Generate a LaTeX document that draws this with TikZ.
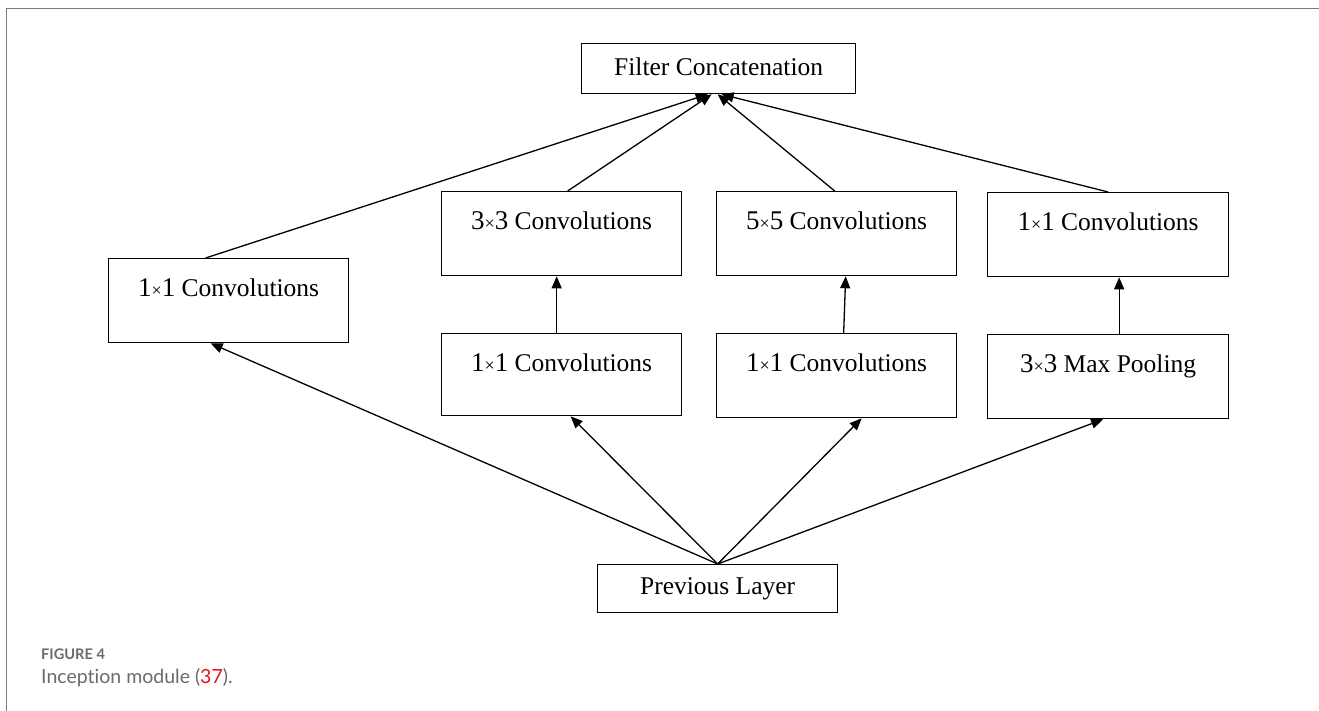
\documentclass[tikz,border=0pt]{standalone}
\usepackage{fontspec}
\setmainfont{Liberation Serif}
\newfontfamily\capfont[Ligatures=NoCommon]{Lato}
\usetikzlibrary{arrows.meta}
\definecolor{framegray}{HTML}{7A7A7A}
\definecolor{capgray}{HTML}{6B6B6B}
\definecolor{refred}{HTML}{E3141E}
\newcommand{\tms}{{\fontsize{18}{18}\selectfont ×}}
\newcommand{\dg}[1]{{\fontsize{27}{30}\selectfont #1}}
\begin{document}
\begin{tikzpicture}[x=1pt,y=-1pt,
  box/.style={draw, line width=1.3pt, inner xsep=0pt, inner ysep=0pt,
    font=\fontsize{25.5}{30}\selectfont, anchor=north west},
  conv/.style={box, minimum width=240pt, text height=38pt, text depth=46pt},
  arr/.style={-{Triangle[length=12pt,width=10pt]}, line width=1.3pt},
  captxt/.style={anchor=base west, inner sep=0pt, text=capgray}]
\useasboundingbox (0,0) rectangle (1319,711);
\fill[white] (0,0) rectangle (1319,711);
\draw[framegray, line width=1.6pt] (6.5,711) -- (6.5,8.5) -- (1319,8.5);

% nodes
\node[box, minimum width=274pt, text height=32pt, text depth=18pt] (fc) at (581,43) {Filter Concatenation};
\node[conv] (l1) at (108,258) {\dg{1}\tms\dg{1} Convolutions};
\node[conv] (c33) at (441,191) {\dg{3}\tms\dg{3} Convolutions};
\node[conv] (c55) at (716,191) {\dg{5}\tms\dg{5} Convolutions};
\node[conv, minimum width=241pt] (r1) at (987,192) {\dg{1}\tms\dg{1} Convolutions};
\node[conv, text depth=44pt] (m1) at (441,333) {\dg{1}\tms\dg{1} Convolutions};
\node[conv] (m5) at (716,333) {\dg{1}\tms\dg{1} Convolutions};
\node[conv, minimum width=241pt] (mp) at (987,334) {\dg{3}\tms\dg{3} Max Pooling};
\node[box, minimum width=240pt, text height=30pt, text depth=18pt] (pl) at (597,564) {Previous Layer};

% connectors from previous layer
\draw[arr] (pl.north) -- ([xshift=-18pt]l1.south);
\draw[arr] (pl.north) -- ([xshift=9pt]m1.south);
\draw[arr] (pl.north) -- ([xshift=25pt]m5.south);
\draw[arr] (pl.north) -- ([xshift=-5pt]mp.south);

% vertical connectors
\draw[arr] ([xshift=-5pt]m1.north) -- ([xshift=-5pt]c33.south);
\draw[arr] ([xshift=7pt]m5.north) -- ([xshift=9pt]c55.south);
\draw[arr] ([xshift=11pt]mp.north) -- ([xshift=11pt]r1.south);

% connectors to filter concatenation
\draw[arr] ([xshift=-23pt]l1.north) -- ([xshift=-11pt]fc.south);
\draw[arr] ([xshift=6pt]c33.north) -- ([xshift=-7pt]fc.south);
\draw[arr] ([xshift=-2pt]c55.north) -- ([xshift=-1pt]fc.south);
\draw[arr] (r1.north) -- ([xshift=3pt]fc.south);

% caption
\node[captxt, font=\capfont\bfseries\fontsize{14.6}{15}\selectfont] (fig) at (41,659) {FIGURE 4};
\node[captxt, font=\capfont\fontsize{19.5}{20}\selectfont] (cap) at (41,683) {Inception module (\textcolor{refred}{37}).};
\end{tikzpicture}
\end{document}
